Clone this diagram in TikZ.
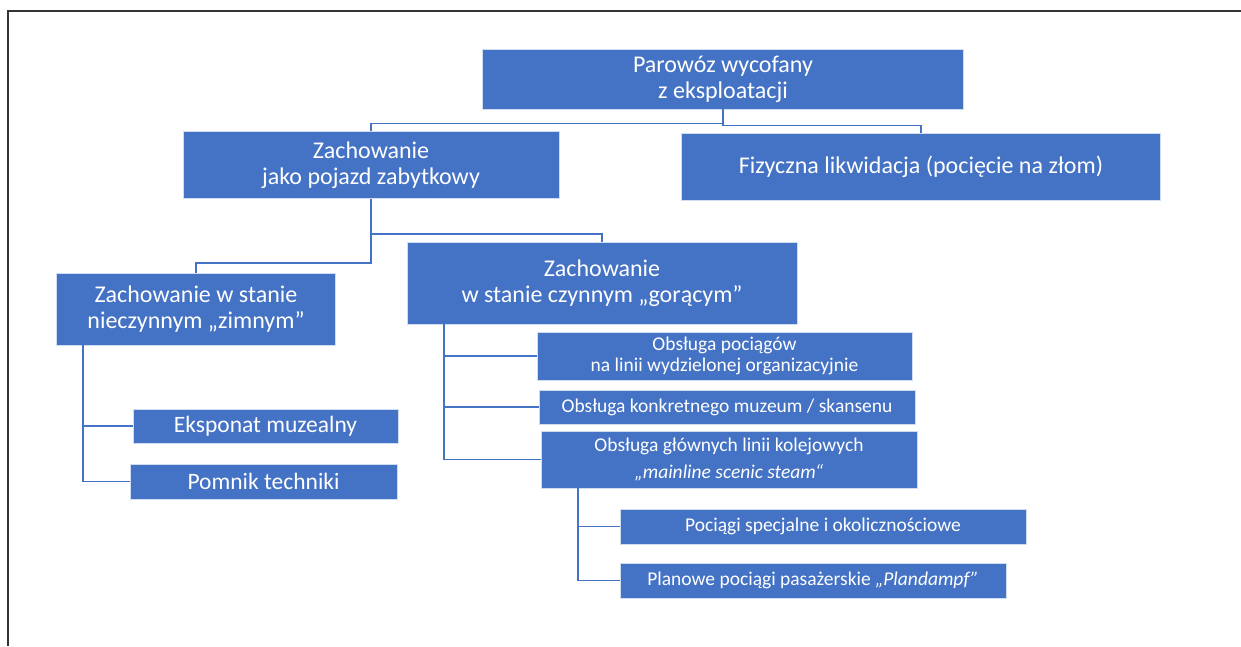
\documentclass[tikz,border=0pt]{standalone}
\usepackage{fontspec}
\setmainfont{Carlito}
\usepackage{xcolor}
\usepackage{tikz}
\usetikzlibrary{positioning}
\definecolor{ofblue}{HTML}{4472C4}

\begin{document}
\begin{tikzpicture}[x=1pt, y=-1pt,
    box/.style={fill=ofblue, draw=white!75!ofblue, line width=0.8pt, text=white, align=center, inner sep=0pt},
    big/.style={font=\fontsize{24}{26}\selectfont},
    mid/.style={font=\fontsize{23.5}{26}\selectfont},
    small/.style={font=\fontsize{19.5}{21}\selectfont},
    conn/.style={draw=ofblue, line width=1.8pt}]
    \useasboundingbox (0,0) rectangle (1241,646);
    % Frame
    \draw[line width=1.2pt, black!80] (8,646) -- (8,11) -- (1241,11);

    % Top level
    \node[box, big, minimum width=481, minimum height=60] (root) at (723,79) {Parowóz wycofany\\z eksploatacji};
    \node[box, big, minimum width=376, minimum height=67] (zab) at (371,165) {Zachowanie\\jako pojazd zabytkowy};
    \node[box, big, minimum width=479, minimum height=67] (fiz) at (921,166.5) {Fizyczna likwidacja (pocięcie na złom)};
    \draw[conn] (root.south) -- ++(0,14) -| (zab.north);
    \draw[conn] (root.south) -- ++(0,16) -| (fiz.north);

    % Second level
    \node[box, big, minimum width=279, minimum height=72] (zimny) at (196,309) {Zachowanie w stanie\\nieczynnym „zimnym”};
    \node[box, big, minimum width=390, minimum height=82] (goracy) at (602,283) {Zachowanie\\w stanie czynnym „gorącym”};
    \draw[conn] (zab.south) -- ++(0,35) -| (goracy.north);
    \draw[conn] (zab.south) -- ++(0,64) -| (zimny.north);

    % Cold branch
    \node[box, mid, minimum width=265, minimum height=34] (eksp) at (265.5,426) {Eksponat muzealny};
    \node[box, mid, minimum width=267, minimum height=35] (pomnik) at (263.5,481.5) {Pomnik techniki};
    \draw[conn] (zimny.south west) ++(27,0) |- (eksp.west);
    \draw[conn] (zimny.south west) ++(27,0) |- (pomnik.west);

    % Hot branch
    \node[box, small, minimum width=375, minimum height=48] (obsA) at (724.5,356) {Obsługa pociągów\\na linii wydzielonej organizacyjnie};
    \node[box, small, minimum width=376, minimum height=34] (obsB) at (727,407) {Obsługa konkretnego muzeum / skansenu};
    \node[box, small, minimum width=376, minimum height=57] (obsC) at (729,459.5) {Obsługa głównych linii kolejowych\\[6pt]\textit{„mainline scenic steam“}};
    \foreach \n in {obsA,obsB,obsC}
        \draw[conn] (goracy.south west) ++(37,0) |- (\n.west);

    % Mainline
    \node[box, small, minimum width=406, minimum height=35] (spec) at (823,526.5) {Pociągi specjalne i okolicznościowe};
    \node[box, small, minimum width=386, minimum height=35] (plan) at (813,580.5) {Planowe pociągi pasażerskie \textit{„Plandampf”}};
    \draw[conn] (obsC.south west) ++(37,0) |- (spec.west);
    \draw[conn] (obsC.south west) ++(37,0) |- (plan.west);
\end{tikzpicture}
\end{document}
